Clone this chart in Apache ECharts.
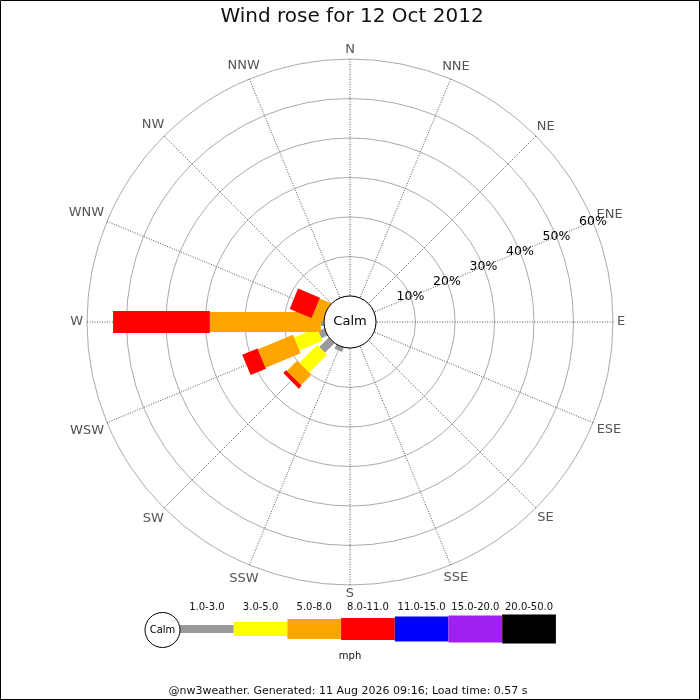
<!DOCTYPE html>
<html><head><meta charset="utf-8">
<script src="https://cdn.jsdelivr.net/npm/echarts@6/dist/echarts.min.js"></script>
<style>html,body{margin:0;padding:0;background:#fff}#c{width:700px;height:700px}</style>
</head><body><div id="c"></div>
<script>
// ---- data ----
const directions = ['N','NNE','NE','ENE','E','ESE','SE','SSE','S','SSW','SW','WSW','W','WNW','NW','NNW'];
const speedBins = ['1.0-3.0','3.0-5.0','5.0-8.0','8.0-11.0','11.0-15.0','15.0-20.0','20.0-50.0'];
// percentage of the day per direction (N..NNW) for each speed bin (mph)
const bin1to3   = [0,0,0,0,0,0,0,0,0,1.2,3.4,1.7,0.8,0,0,0];
const bin3to5   = [0,0,0,0,0,0,0,0,0,0,6.4,6.3,0,0,0,0];
const bin5to8   = [0,0,0,0,0,0,0,0,0,0,3.7,9.6,28.1,2.8,0,0];
const bin8to11  = [0,0,0,0,0,0,0,0,0,0,1.0,4.2,24.5,6.0,0,0];
const bin11to15 = [0,0,0,0,0,0,0,0,0,0,0,0,0,0,0,0];
const bin15to20 = [0,0,0,0,0,0,0,0,0,0,0,0,0,0,0,0];
const bin20to50 = [0,0,0,0,0,0,0,0,0,0,0,0,0,0,0,0];
const radialTicks = [10,20,30,40,50,60];
const titleText = 'Wind rose for 12 Oct 2012';
const calmLabel = 'Calm';
const unitLabel = 'mph';
const footerText = '@nw3weather. Generated: 11 Aug 2026 09:16; Load time: 0.57 s';

// ---- styles ----
const binValues = [bin1to3, bin3to5, bin5to8, bin8to11, bin11to15, bin15to20, bin20to50];
const binColors = ['#999999','#ffff00','#ffa500','#ff0000','#0000ff','#a020f0','#000000'];
const binWidths = [8,14,20,22,25,27,29];
const FONT = '"DejaVu Sans", Verdana, sans-serif';
const CX = 350, CY = 322, R0 = 26, R1 = 263;
const STEP = 360 / directions.length;   // compass degrees per direction sector

const mctx = document.createElement('canvas').getContext('2d');
function textWidth(t, size){ mctx.font = size + 'px ' + FONT; return mctx.measureText(t).width; }

function unitVec(api, ang){
  const a = api.coord([0, ang]), b = api.coord([60, ang]);
  const L = Math.hypot(b[0]-a[0], b[1]-a[1]);
  return [(b[0]-a[0])/L, (b[1]-a[1])/L];
}

// stacked series data: [end, compassAngle, start]
const series = [];
const cum = directions.map(() => 0);
binValues.forEach((vals, k) => {
  const data = vals.map((v, i) => { const s = cum[i]; cum[i] += v; return [cum[i], i*STEP, s]; });
  series.push({
    type: 'custom', coordinateSystem: 'polar', name: speedBins[k],
    dimensions: [{name:'end',type:'float'},{name:'ang',type:'float'},{name:'start',type:'float'}],
    encode: {radius: 'end', angle: 'ang'},
    data: data, silent: true, z: 3 + k,
    renderItem: function(params, api){
      const end = api.value(0), ang = api.value(1), start = api.value(2);
      if (!(end - start > 0)) return null;
      const u = unitVec(api, ang);
      const a = api.coord([start, ang]), b = api.coord([end, ang]);
      let ax = a[0], ay = a[1];
      if (start === 0) { ax -= u[0]*6; ay -= u[1]*6; }
      const h = binWidths[k]/2, nx = -u[1]*h, ny = u[0]*h;
      return {type:'polygon', shape:{points:[[ax+nx,ay+ny],[b[0]+nx,b[1]+ny],[b[0]-nx,b[1]-ny],[ax-nx,ay-ny]]},
              style:{fill: binColors[k]}};
    }
  });
});

// direction labels
series.push({
  type:'custom', coordinateSystem:'polar', silent:true, z: 20,
  dimensions:[{name:'r',type:'float'},{name:'ang',type:'float'},{name:'idx',type:'int'}],
  encode:{radius:'r', angle:'ang'},
  data: directions.map((d,i)=>[60, i*STEP, i]),
  renderItem: function(params, api){
    const ang = api.value(1);
    const u = unitVec(api, ang);
    const p = api.coord([60, ang]);
    const txt = directions[api.value(2)];
    const w = textWidth(txt, 13), hh = 10;
    const off = 4 + Math.abs(u[0])*w/2 + Math.abs(u[1])*hh/2;
    return {type:'text', x: p[0]+u[0]*off, y: p[1]+u[1]*off,
      style:{text: txt, fill:'#555', font:'13px ' + FONT, align:'center', verticalAlign:'middle'}};
  }
});

// radial (percentage) labels along ENE
series.push({
  type:'custom', coordinateSystem:'polar', silent:true, z: 21,
  dimensions:[{name:'r',type:'float'},{name:'ang',type:'float'}],
  encode:{radius:'r', angle:'ang'},
  data: radialTicks.map(t=>[t, directions.indexOf('ENE')*STEP]),
  renderItem: function(params, api){
    const p = api.coord([api.value(0), api.value(1)]);
    return {type:'text', x:p[0], y:p[1],
      style:{text: api.value(0) + '%', fill:'#000', font:'12.5px ' + FONT, align:'center', verticalAlign:'middle'}};
  }
});

// legend / decoration graphics
const graphics = [
  {type:'rect', shape:{x:0.5,y:0.5,width:699,height:699}, style:{fill:null, stroke:'#000', lineWidth:1}, z:200, silent:true},
  {type:'text', x:352, y:17, style:{text:titleText, font:'20px ' + FONT, fill:'#111', align:'center', verticalAlign:'middle'}, z:200},
  {type:'circle', shape:{cx:CX, cy:CY, r:R0}, style:{fill:'#fff', stroke:'#000', lineWidth:1}, z:150},
  {type:'text', x:CX, y:CY, style:{text:calmLabel, font:'13px ' + FONT, fill:'#000', align:'center', verticalAlign:'middle'}, z:151},
  {type:'circle', shape:{cx:162.5, cy:630, r:17.5}, style:{fill:'#fff', stroke:'#000', lineWidth:1}, z:150},
  {type:'text', x:162.5, y:630, style:{text:calmLabel, font:'10px ' + FONT, fill:'#000', align:'center', verticalAlign:'middle'}, z:151},
  {type:'text', x:350, y:656, style:{text:unitLabel, font:'10px ' + FONT, fill:'#111', align:'center', verticalAlign:'middle'}, z:151},
  {type:'text', x:348, y:691, style:{text:footerText, font:'11px ' + FONT, fill:'#111', align:'center', verticalAlign:'middle'}, z:151}
];
const legX0 = 180, legStep = 53.7, legY = 629;
speedBins.forEach((b, k) => {
  graphics.push({type:'rect', shape:{x: legX0 + k*legStep, y: legY - binWidths[k]/2, width: legStep, height: binWidths[k]},
    style:{fill: binColors[k]}, z:140});
  graphics.push({type:'text', x: legX0 + k*legStep + legStep/2, y: 607,
    style:{text:b, font:'10px ' + FONT, fill:'#111', align:'center', verticalAlign:'middle'}, z:141});
});

const chart = echarts.init(document.getElementById('c'), null, {renderer:'canvas'});
chart.setOption({
  animation:false,
  backgroundColor:'#fff',
  polar:{center:[CX, CY], radius:[R0, R1]},
  angleAxis:{type:'value', min:0, max:360, interval:STEP, startAngle:90, clockwise:true,
    axisLine:{show:false}, axisTick:{show:false}, axisLabel:{show:false},
    splitLine:{show:true, lineStyle:{color:'#555', width:1, type:[1,1.5]}}},
  radiusAxis:{type:'value', min:0, max:60, interval:10,
    axisLine:{show:false}, axisTick:{show:false}, axisLabel:{show:false},
    splitLine:{show:true, lineStyle:{color:'#aaa', width:1, type:'solid'}}},
  graphic: graphics,
  series: series
});
</script></body></html>
